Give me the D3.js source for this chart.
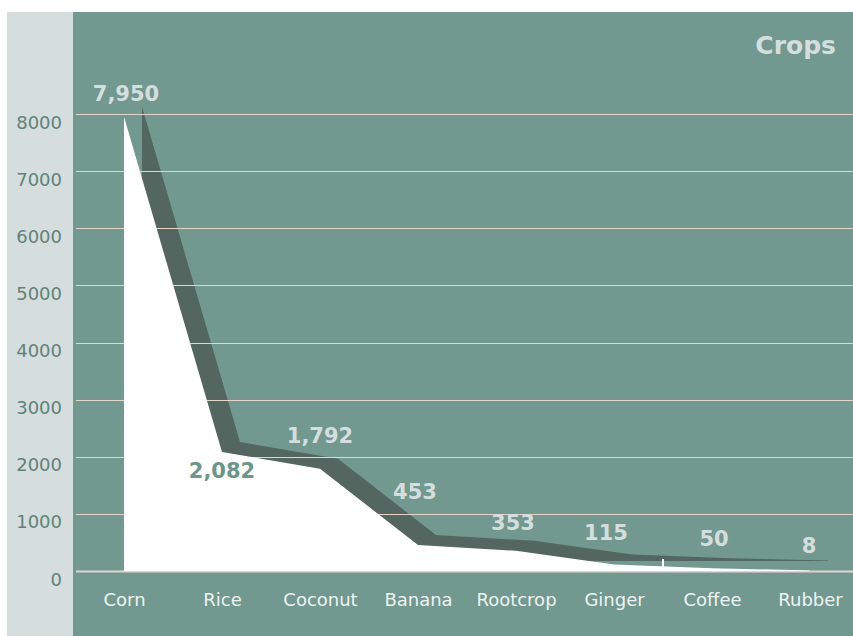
<!DOCTYPE html>
<html>
<head>
<meta charset="utf-8">
<script src="https://cdn.jsdelivr.net/npm/d3@7/dist/d3.min.js"></script>
<style>
  html, body { margin: 0; padding: 0; background: #ffffff; }
  svg { display: block; }
  text { font-family: "DejaVu Sans", Verdana, sans-serif; }
</style>
</head>
<body>
<svg id="chart" width="853" height="636"></svg>
<script>
// Harvest by crop
const categories = ["Corn", "Rice", "Coconut", "Banana", "Rootcrop", "Ginger", "Coffee", "Rubber"];
const values = [7950, 2082, 1792, 453, 353, 115, 50, 8];
const yTicks = [0, 1000, 2000, 3000, 4000, 5000, 6000, 7000, 8000];
const title = "Crops";

const W = 853, H = 636;
const svg = d3.select("#chart");

// panels
const panelTop = 12, panelLeft = 7, plotLeft = 73;
const gridLeft = 76;

// 3D depth: the back face of the area is shifted by this much
const depthX = 18, depthY = -10;

const x = d3.scalePoint().domain(categories).range([124, 810]);
const y = d3.scaleLinear().domain([0, 8000]).range([571, 114]);

svg.append("rect").attr("x", panelLeft).attr("y", panelTop)
  .attr("width", plotLeft - panelLeft).attr("height", H - panelTop)
  .attr("fill", "#d5dedd");
svg.append("rect").attr("x", plotLeft).attr("y", panelTop)
  .attr("width", W - plotLeft).attr("height", H - panelTop)
  .attr("fill", "#71998f");

const area = d3.area()
  .x((d, i) => x(categories[i]))
  .y0(y(0))
  .y1(d => y(d));

// back face (dark), seen past the front face
svg.append("path").datum(values).attr("d", area)
  .attr("transform", `translate(${depthX},${depthY})`)
  .attr("fill", "#53665f");

// gridlines
svg.append("g").selectAll("line").data(yTicks).join("line")
  .attr("x1", gridLeft).attr("x2", W)
  .attr("y1", d => Math.round(y(d)) + 0.5).attr("y2", d => Math.round(y(d)) + 0.5)
  .attr("stroke", "#e8d3c9")
  .attr("stroke-width", d => d === 0 ? 2 : 1);

// front face of the area
svg.append("path").datum(values).attr("d", area).attr("fill", "#ffffff");

// small tick between Ginger and Coffee
const midX = (x("Ginger") + x("Coffee")) / 2;
svg.append("line")
  .attr("x1", midX).attr("x2", midX)
  .attr("y1", y(0) - 12).attr("y2", y(0))
  .attr("stroke", "#ffffff").attr("stroke-width", 2);

// y axis labels
const yAxis = d3.axisLeft(y).tickValues(yTicks).tickSize(0).tickPadding(0)
  .tickFormat(d3.format("d"));
const gy = svg.append("g").attr("transform", "translate(62,0)").call(yAxis);
gy.select(".domain").remove();
gy.selectAll("text")
  .attr("dy", null)
  .attr("y", 14)
  .attr("font-size", 18).attr("font-family", "'DejaVu Sans', Verdana, sans-serif")
  .attr("fill", "#5f8378");

// category labels
const xAxis = d3.axisBottom(x).tickSize(0).tickPadding(0);
const gx = svg.append("g").attr("transform", "translate(0,606)").call(xAxis);
gx.select(".domain").remove();
gx.selectAll("text")
  .attr("dy", null).attr("y", 0)
  .attr("font-size", 18).attr("font-family", "'DejaVu Sans', Verdana, sans-serif")
  .attr("fill", "#eef3f1");

// value labels (nudged to sit clear of the back face)
const labelDx = [2, 0, 0, -3, -3, -8, 2, -1];
const labelLift = [16, -26, 26, 46, 21, 24, 22, 18];
const fmt = d3.format(",");
svg.append("g").selectAll("text").data(values).join("text")
  .attr("x", (d, i) => x(categories[i]) + labelDx[i])
  .attr("y", (d, i) => y(d) - labelLift[i])
  .attr("text-anchor", "middle")
  .attr("font-size", 21).attr("font-weight", "bold")
  .attr("fill", (d, i) => i === 1 ? "#6b968b" : "#d5dedd")
  .text(d => fmt(d));

// title
svg.append("text")
  .attr("x", 836).attr("y", 54)
  .attr("text-anchor", "end")
  .attr("font-size", 25).attr("font-weight", "bold")
  .attr("fill", "#d5dedd")
  .text(title);
</script>
</body>
</html>
